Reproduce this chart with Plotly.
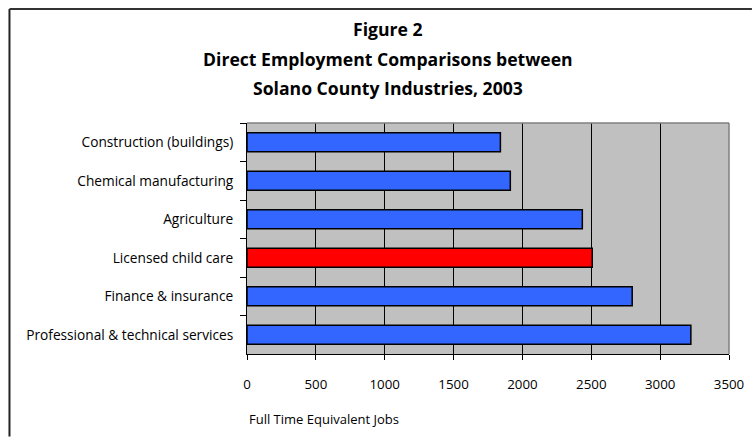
import plotly.graph_objects as go

categories = [
    "Construction (buildings)",
    "Chemical manufacturing",
    "Agriculture",
    "Licensed child care",
    "Finance & insurance",
    "Professional & technical services",
]
jobs = [1840, 1912, 2435, 2507, 2797, 3223]
bar_colors = ["#3366FF", "#3366FF", "#3366FF", "#FF0000", "#3366FF", "#3366FF"]
x_ticks = [0, 500, 1000, 1500, 2000, 2500, 3000, 3500]
title_lines = [
    "Figure 2",
    "Direct Employment Comparisons between",
    "Solano County Industries, 2003",
]
x_title = "Full Time Equivalent Jobs"

FONT = "Open Sans"

fig = go.Figure(
    go.Bar(
        x=jobs,
        y=categories,
        orientation="h",
        marker=dict(color=bar_colors, line=dict(color="#000000", width=1.5)),
        hoverinfo="x+y",
    )
)

fig.update_layout(
    width=756,
    height=438,
    margin=dict(l=247, r=25, t=123, b=84),
    paper_bgcolor="#FFFFFF",
    plot_bgcolor="#C0C0C0",
    bargap=0.51,
    showlegend=False,
    font=dict(family=FONT, size=13, color="#000000"),
)

fig.update_xaxes(
    range=[0, 3500],
    tickvals=x_ticks,
    ticktext=[str(v) for v in x_ticks],
    showgrid=True,
    gridcolor="#000000",
    gridwidth=1,
    zeroline=False,
    showline=True,
    linecolor="#000000",
    linewidth=1,
    ticks="outside",
    ticklen=5,
    tickcolor="#000000",
    ticklabelstandoff=13,
    tickfont=dict(family=FONT, size=13.3),
    fixedrange=True,
)
fig.update_yaxes(
    autorange="reversed",
    showgrid=False,
    showline=True,
    linecolor="#000000",
    linewidth=1,
    ticks="outside",
    ticklen=6,
    tickcolor="#000000",
    tickson="boundaries",
    ticklabelstandoff=10,
    tickfont=dict(family=FONT, size=13.7),
    fixedrange=True,
)

# plot-area border (top and right)
fig.add_shape(type="line", xref="paper", yref="paper", x0=0, x1=1, y0=1, y1=1,
              line=dict(color="#808080", width=1.5))
fig.add_shape(type="line", xref="paper", yref="paper", x0=1, x1=1, y0=0, y1=1,
              line=dict(color="#808080", width=1.5))

# outer chart border (left and top edges; kept inside the page)
fig.add_shape(type="line", xref="paper", yref="paper",
              x0=-0.4928, x1=-0.4928, y0=-0.357, y1=1.493,
              line=dict(color="#222222", width=2))
fig.add_shape(type="line", xref="paper", yref="paper",
              x0=-0.4928, x1=1.0475, y0=1.493, y1=1.493,
              line=dict(color="#333333", width=2))

title_y = [1.405, 1.279, 1.153]
for text, yy in zip(title_lines, title_y):
    fig.add_annotation(
        text=f"<b>{text}</b>", xref="paper", yref="paper", x=0.2934, y=yy,
        xanchor="center", yanchor="middle", showarrow=False,
        font=dict(family=FONT, size=17.6, color="#000000"),
    )

fig.add_annotation(
    text=x_title, xref="paper", yref="paper", x=0.0, y=-0.283,
    xanchor="left", yanchor="middle", showarrow=False,
    font=dict(family=FONT, size=13, color="#000000"),
)

fig.write_html("out.html")
